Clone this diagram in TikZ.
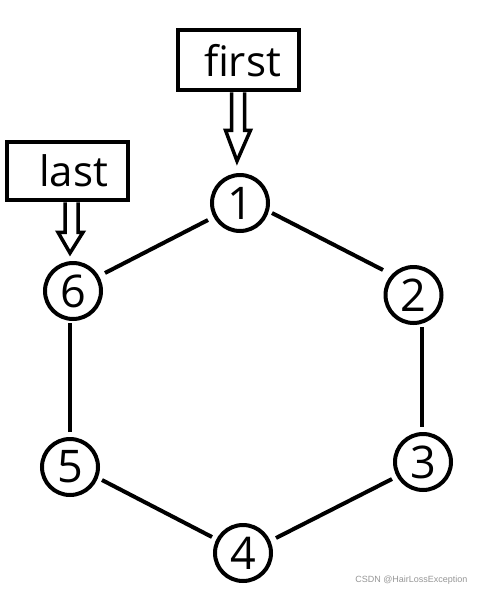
\documentclass[tikz,border=0pt]{standalone}
\usepackage{fontspec}
\setmainfont{Open Sans}
\newfontfamily\wmfont{Liberation Sans}
\usetikzlibrary{calc}
\definecolor{wmgray}{RGB}{150,150,150}
\begin{document}
\begin{tikzpicture}[x=1pt,y=-1pt,
  vert/.style={circle,draw,line width=4pt,minimum size=56pt,inner sep=0pt,font=\fontsize{45}{45}\selectfont},
  ptr/.style={draw,line width=4.5pt,inner sep=0pt,font=\fontsize{42}{42}\selectfont},
  edge/.style={line width=4pt},
  hollow/.style={line width=3.5pt,line join=miter}]
\useasboundingbox (0,0) rectangle (485,595);
\node[vert] (n1) at (240,203) {1};
\node[vert] (n2) at (413.5,295) {2};
\node[vert] (n3) at (423,462) {3};
\node[vert] (n4) at (243,553) {4};
\node[vert] (n5) at (70,467) {5};
\node[vert] (n6) at (73,291) {6};
\node[ptr,minimum width=121pt,minimum height=60pt,text depth=0pt] (first) at (238.5,60) {\hspace*{8pt}first};
\node[ptr,minimum width=121pt,minimum height=58pt] (last) at (67.5,171) {\hspace*{12pt}last};
\draw[edge] ($(n1)+(32,10)$) -- ($(n2)+(-30.5,-25)$);
\draw[edge] ($(n2)+(8.5,32)$) -- ($(n3)+(-1,-35)$);
\draw[edge] ($(n3)+(-31,17)$) -- ($(n4)+(33,-15)$);
\draw[edge] ($(n4)+(-31,-16)$) -- ($(n5)+(32,13)$);
\draw[edge] ($(n5)+(0,-35)$) -- ($(n6)+(-3,32)$);
\draw[edge] ($(n6)+(32,-18)$) -- ($(n1)+(-32,17)$);
% hollow arrows
\coordinate (t1) at ($(n1.north)+(-3,-12)$);
\draw[hollow] ($(first.south)+(-7,0)$) -- ($(first.south)+(-7,38)$) -- ($(first.south)+(-13,38)$) -- (t1) -- ($(first.south)+(12,38)$) -- ($(first.south)+(6,38)$) -- ($(first.south)+(6,0)$);
\coordinate (t6) at ($(n6.north)+(-3,-8)$);
\draw[hollow] ($(last.south)+(-2.5,0)$) -- ($(last.south)+(-2.5,30)$) -- ($(last.south)+(-9.5,30)$) -- (t6) -- ($(last.south)+(15.5,30)$) -- ($(last.south)+(10.5,30)$) -- ($(last.south)+(10.5,0)$);
\node[text=wmgray,font=\wmfont\fontsize{9}{9}\selectfont,anchor=east] (wm) at (471,580) {CSDN @HairLossException};
\end{tikzpicture}
\end{document}
